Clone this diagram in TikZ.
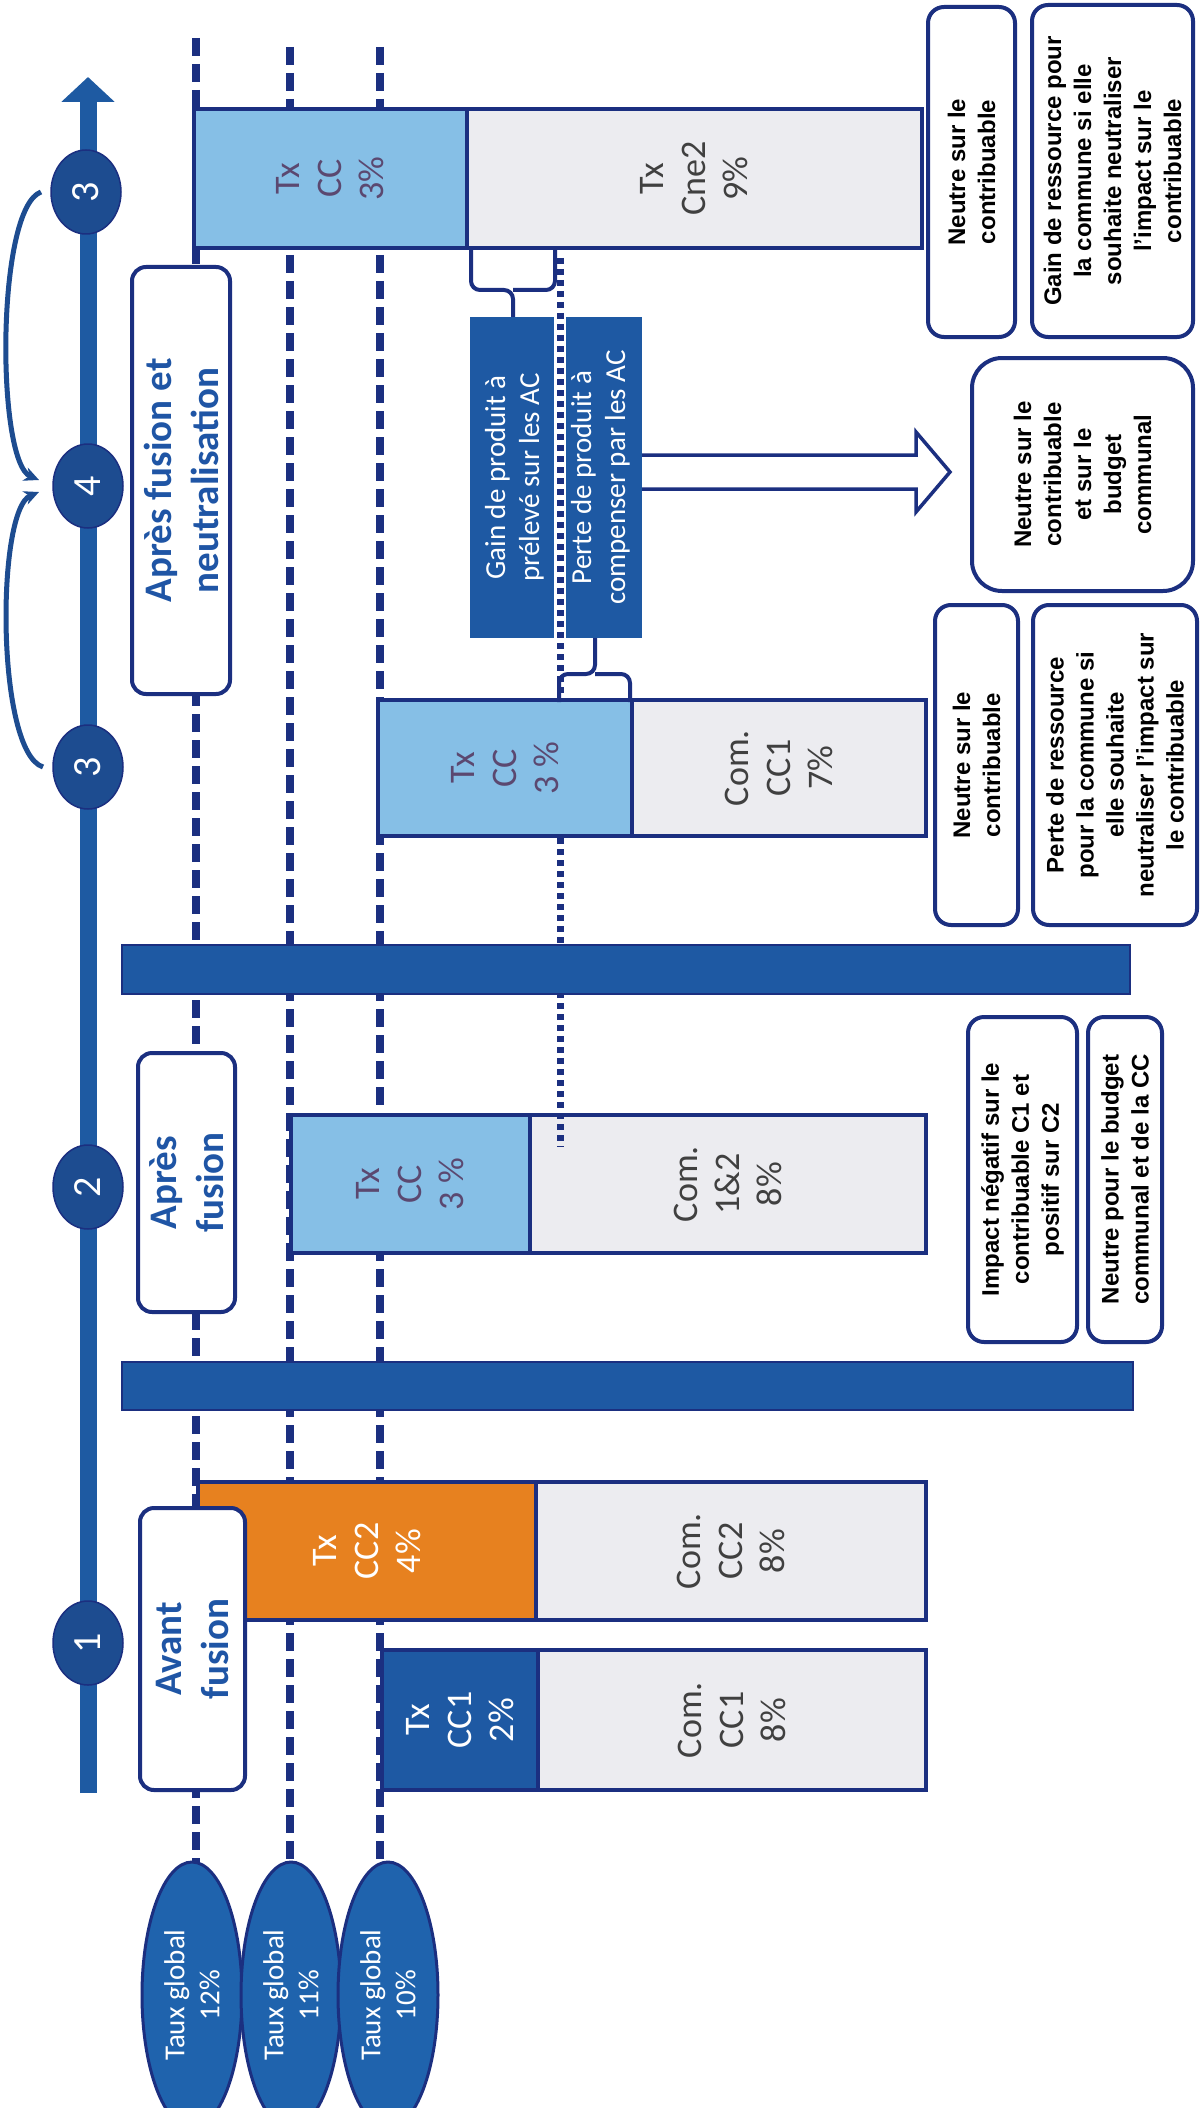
\documentclass[tikz,border=0pt]{standalone}
\usepackage{fontspec}
\setmainfont{Carlito}
\newfontfamily\libsans{Liberation Sans}
\usetikzlibrary{shapes.geometric,arrows.meta}
\definecolor{navy}{HTML}{1B2F80}
\definecolor{midblue}{HTML}{1E59A3}
\definecolor{circblue}{HTML}{1D4C90}
\definecolor{axblue}{HTML}{1E5AA2}
\definecolor{oran}{HTML}{E7811F}
\definecolor{lblue}{HTML}{86BFE6}
\definecolor{lgrey}{HTML}{ECECF0}
\definecolor{stagetxt}{HTML}{1F55A5}
\definecolor{txdark}{HTML}{404040}
\definecolor{txpurp}{HTML}{5B4870}
\definecolor{ellblue}{HTML}{1F63AD}
\newcommand\barfnt{\fontsize{36pt}{42pt}\selectfont}
\newcommand\stagefnt{\bfseries\fontsize{39pt}{47pt}\selectfont}
\newcommand\notefnt{\libsans\bfseries\fontsize{24pt}{30pt}\selectfont}
\newcommand\numfnt{\fontsize{40pt}{44pt}\selectfont}
\newcommand\tauxfnt{\fontsize{29pt}{35pt}\selectfont}
\newcommand\gainfnt{\fontsize{29pt}{34pt}\selectfont}
\begin{document}
\begin{tikzpicture}[x=1pt,y=1pt,
  sz/.style 2 args={minimum height=#1pt, minimum width=#2pt},
  rot/.style={rotate=90, inner sep=0pt, outer sep=0pt, align=center},
  bar/.style={rot, draw=navy, line width=3.5pt, font=\barfnt},
  txcc/.style={bar, fill=lblue, text=txpurp},
  com/.style={bar, fill=lgrey, text=txdark},
  stage/.style={rot, draw=navy, line width=4pt, fill=white, rounded corners=14pt, text=stagetxt, font=\stagefnt},
  note/.style={rot, draw=navy, line width=4pt, fill=white, rounded corners=16pt, font=\notefnt},
  num/.style={rot, ellipse, fill=circblue, draw=navy, line width=1.5pt, text=white, font=\numfnt, minimum width=84pt, minimum height=70pt},
  taux/.style={rot, ellipse, fill=ellblue, draw=navy, line width=3pt, text=white, font=\tauxfnt, minimum width=266pt, minimum height=100pt},
  darkbox/.style={rot, fill=midblue, text=white, font=\gainfnt},
  rateline/.style={draw=navy, line width=7.5pt, dash pattern=on 18pt off 8pt},
  dotline/.style={draw=navy, line width=7pt, dash pattern=on 6pt off 5pt},
  sepbar/.style={fill=midblue, draw=navy, line width=2pt},
  brace/.style={draw=navy, line width=4pt, rounded corners=9pt},
  loop/.style={draw=circblue, line width=5pt, -{Stealth[length=15pt,width=14pt]}},
  axisline/.style={draw=axblue, line width=17pt, -{Triangle[length=25pt,width=52pt]}}
]
\useasboundingbox (0,0) rectangle (1199,-2108);
\clip (0,0) rectangle (1199,-2108);
\fill[white] (0,0) rectangle (1199,-2108);

% global rates
\node[taux] (t12) at (192,-1995) {Taux global\\12\%};
\node[taux] (t11) at (291,-1995) {Taux global\\11\%};
\node[taux] (t10) at (388,-1995) {Taux global\\10\%};

\coordinate (l12) at (196,-38);
\coordinate (l11) at (290,-47);
\coordinate (l10) at (380,-47);
\draw[rateline] (l12) -- (l12 |- t12.east);
\draw[rateline] (l11) -- (l11 |- t11.east);
\draw[rateline] (l10) -- (l10 |- t10.east);

% time axis
\coordinate (axb) at (88,-1793);
\coordinate (axt) at (88,-77);
\draw[axisline] (axb) -- (axt);
\node[num] (c1) at (88,-1643) {1};
\node[num] (c2) at (88,-1187) {2};
\node[num] (c3a) at (88,-767) {3};
\node[num] (c4) at (88,-486) {4};
\node[num] (c3b) at (86,-192) {3};
\draw[loop] ([xshift=-10pt]c3a.north) .. controls (-4,-752) and (-4,-510) .. ([xshift=-14pt,yshift=-6pt]c4.north);
\draw[loop] ([xshift=-10pt]c3b.north) .. controls (-4,-208) and (-4,-462) .. ([xshift=-14pt,yshift=6pt]c4.north);

% bars before fusion
\node[bar, fill=midblue, text=white, sz={156}{140}] (cc1tx) at (460,-1720) {Tx\\CC1\\2\%};
\node[com, sz={388}{140}] (cc1com) at (732,-1720) {Com.\\CC1\\8\%};
\node[bar, fill=oran, text=white, sz={338}{138}] (cc2tx) at (367,-1551) {Tx\\CC2\\4\%};
\node[com, sz={390}{138}] (cc2com) at (731,-1551) {Com.\\CC2\\8\%};
% after fusion
\node[txcc, sz={239}{138}] (aftx) at (410.5,-1184) {Tx\\CC\\3 \%};
\node[com, sz={396}{138}] (afcom) at (728,-1184) {Com.\\1\&2\\8\%};
% neutralisation
\node[txcc, sz={254}{136}] (ntx) at (505,-768) {Tx\\CC\\3 \%};
\node[com, sz={294}{136}] (ncom) at (779,-768) {Com.\\CC1\\7\%};
\node[txcc, sz={273}{139}] (ttx) at (330.5,-178.5) {Tx\\CC\\3\%};
\node[com, sz={455}{139}] (tcom) at (694.5,-178.5) {Tx\\Cne2\\9\%};

% stage labels
\node[stage, sz={105}{282}] (s1) at (192.5,-1649) {Avant\\fusion};
\node[stage, sz={97}{259}] (s2) at (186.5,-1182.5) {Après\\fusion};
\node[stage, sz={98}{427}] (s3) at (181,-480.5) {Après fusion et\\neutralisation};

% dotted line (lower part)
\coordinate (d3) at (560,-838);
\coordinate (d4) at (560,-1147);
\draw[dotline] (d3) -- (d4);

% separators
\path[sepbar] (122,-1362) rectangle (1133,-1410);
\path[sepbar] (122,-945) rectangle (1130,-994);

% gain / perte block
\node[darkbox, sz={89}{321}] (gain) at (514.5,-477.5) {Gain de produit à\\prélevé sur les AC};
\node[darkbox, sz={83}{321}] (perte) at (600.5,-477.5) {Perte de produit à\\compenser par les AC};
\fill[white] (554,-317) rectangle (566,-638);
\coordinate (d1) at (560,-258);
\coordinate (d2) at (560,-700);
\draw[dotline] (d1) -- (d2);

% braces
\coordinate (ba) at (471,-250);
\coordinate (bb) at (555,-250);
\coordinate (bt) at (513,-317);
\draw[brace] (ba) -- (471,-290) -- (513,-290) -- (bt);
\draw[brace] (bb) -- (555,-290) -- (513,-290);
\coordinate (bc) at (559,-702);
\coordinate (bd) at (630,-702);
\coordinate (be) at (595,-638);
\draw[brace] (bc) -- (559,-674) -- (595,-674) -- (be);
\draw[brace] (bd) -- (630,-674) -- (595,-674);

% hollow arrow
\coordinate (hs) at (642,-472);
\coordinate (ht) at (950,-472);
\fill[white] (hs) ++(0,17) -- ++(274,0) -- ++(0,23) -- (ht) -- ++(-34,-40) -- ++(0,23) -- ++(-274,0) -- cycle;
\draw[navy, line width=3.5pt, line join=miter] (hs) ++(0,17) -- ++(274,0) -- ++(0,23) -- (ht) -- ++(-34,-40) -- ++(0,23) -- ++(-274,0);

% notes
\node[note, sz={87}{330}] (r1) at (971.5,-172) {Neutre sur le\\contribuable};
\node[note, sz={161}{332}] (r2) at (1112.5,-171) {Gain de ressource pour\\la commune si elle\\souhaite neutraliser\\l’impact sur le\\contribuable};
\node[note, sz={221}{233}, rounded corners=30pt] (r3) at (1082.5,-474.5) {Neutre sur le\\contribuable\\et sur le\\budget\\communal};
\node[note, sz={83}{320}] (r4) at (976.5,-765) {Neutre sur le\\contribuable};
\node[note, sz={164}{320}] (r5) at (1115,-765) {Perte de ressource\\pour la commune si\\elle souhaite\\neutraliser l’impact sur\\le contribuable};
\node[note, sz={109}{325}] (r6) at (1022.5,-1179.5) {Impact négatif sur le\\contribuable C1 et\\positif sur C2};
\node[note, sz={74}{325}] (r7) at (1125,-1179.5) {Neutre pour le budget\\communal et de la CC};
\end{tikzpicture}
\end{document}
